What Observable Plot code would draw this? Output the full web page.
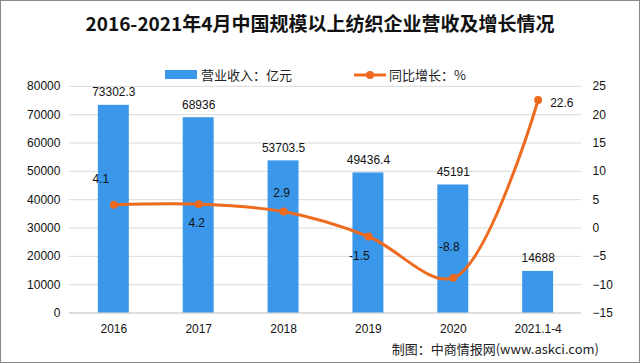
<!DOCTYPE html>
<html>
<head>
<meta charset="utf-8">
<script src="https://cdn.jsdelivr.net/npm/d3@7"></script>
<script src="https://cdn.jsdelivr.net/npm/@observablehq/plot@0.6"></script>
<style>
  html, body { margin: 0; padding: 0; background: #fff; }
  #wrap { position: relative; width: 640px; height: 363px; box-sizing: border-box; border: 1px solid #8a8a8a; overflow: hidden; font-family: "Noto Sans CJK SC", "Liberation Sans", sans-serif; }
  #title { position: absolute; left: 0; width: 638px; top: 8px; text-align: center; font-size: 19px; font-weight: bold; color: #111; }
  .leg { position: absolute; top: 64px; font-size: 13px; color: #222; display: flex; align-items: center; }
  #caption { position: absolute; right: 40px; top: 338px; font-size: 13px; color: #222; }
  #chart { position: absolute; left: -1px; top: -1px; }
</style>
</head>
<body>
<div id="wrap">
  <div id="chart"></div>
  <div id="title">2016-2021年4月中国规模以上纺织企业营收及增长情况</div>
  <div class="leg" style="left:164px"><span style="display:inline-block;width:32px;height:9px;background:#3b97ea;margin-right:4px"></span>营业收入：亿元</div>
  <div class="leg" style="left:352px"><svg width="34" height="12" style="margin-right:2px"><line x1="1" y1="6" x2="33" y2="6" stroke="#ee6a1e" stroke-width="3"/><circle cx="17" cy="6" r="4" fill="#ee6a1e"/></svg>同比增长：%</div>
  <div id="caption">制图：中商情报网(www.askci.com)</div>
</div>
<script>
const years = ["2016", "2017", "2018", "2019", "2020", "2021.1-4"];
const revenue = [73302.3, 68936, 53703.5, 49436.4, 45191, 14688];
const growth = [4.1, 4.2, 2.9, -1.5, -8.8, 22.6];
const leftTicks = [0, 10000, 20000, 30000, 40000, 50000, 60000, 70000, 80000];
const rightTicks = [-15, -10, -5, 0, 5, 10, 15, 20, 25];

// map growth (%) onto the revenue scale: -15..25 -> 0..80000
const toLeft = v => (v + 15) * 2000;
const rows = years.map((y, i) => ({year: y, revenue: revenue[i], growth: growth[i], g: toLeft(growth[i])}));

const blue = "#3b97ea";
const orange = "#ee6a1e";
const labelFont = "Liberation Sans, DejaVu Sans, sans-serif";

const growthLabel = (year, dx, dy, anchor) => Plot.text(rows.filter(d => d.year === year), {
  x: "year", y: "g", text: d => String(d.growth), dx, dy, textAnchor: anchor || "middle",
  fontSize: 12, fill: "#111", fontFamily: labelFont
});

const chart = Plot.plot({
  width: 640,
  height: 363,
  marginTop: 86,
  marginBottom: 50,
  marginLeft: 69,
  marginRight: 58,
  style: {background: "transparent", fontFamily: labelFont, fontSize: "12px", color: "#111"},
  x: {domain: years, padding: 0},
  y: {domain: [0, 80000]},
  marks: [
    Plot.gridY(leftTicks, {stroke: "#d9d9d9", strokeOpacity: 1}),
    Plot.ruleY([0], {stroke: "#d0d0d0"}),
    Plot.barY(rows, {x: "year", y: "revenue", fill: blue, insetLeft: 27, insetRight: 27}),
    Plot.text(rows, {x: "year", y: "revenue", text: d => String(d.revenue), dy: -9, lineAnchor: "bottom", fontSize: 12, fill: "#111"}),
    Plot.line(rows, {x: "year", y: "g", stroke: orange, strokeWidth: 3, curve: "catmull-rom"}),
    Plot.dot(rows, {x: "year", y: "g", r: 4, fill: orange}),
    growthLabel("2016", -13, -26),
    growthLabel("2017", -2, 19),
    growthLabel("2018", -2, -18),
    growthLabel("2019", -9, 20),
    growthLabel("2020", -4, -31),
    growthLabel("2021.1-4", 12, 3, "start"),
    Plot.axisY(leftTicks, {anchor: "left", tickSize: 0, tickPadding: 9, label: null, fontSize: 12, tickFormat: d => String(d)}),
    Plot.axisY(rightTicks.map(toLeft), {anchor: "right", tickSize: 0, tickPadding: 11, label: null, tickFormat: d => String(d / 2000 - 15).replace("-", "\u2212"), fontSize: 12}),
    Plot.axisX({tickSize: 0, tickPadding: 12, label: null, fontSize: 12})
  ]
});
document.getElementById("chart").appendChild(chart);
</script>
</body>
</html>
